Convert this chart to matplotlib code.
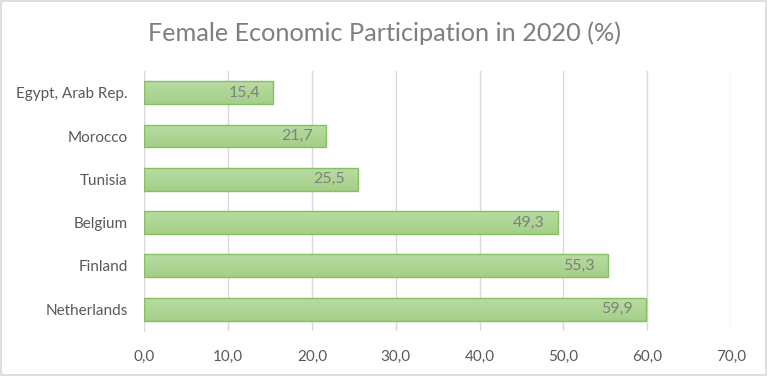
import matplotlib.pyplot as plt
import numpy as np
from matplotlib.colors import LinearSegmentedColormap
from matplotlib.patches import Rectangle

countries = ['Egypt, Arab Rep.', 'Morocco', 'Tunisia', 'Belgium', 'Finland', 'Netherlands']
values = [15.4, 21.7, 25.5, 49.3, 55.3, 59.9]
xticks = [0, 10, 20, 30, 40, 50, 60, 70]

plt.rcParams['font.family'] = ['Lato', 'DejaVu Sans']

fig = plt.figure(figsize=(7.68, 3.76), dpi=100)
fig.patches.append(Rectangle((0.001, 0.002), 0.997, 0.995, transform=fig.transFigure,
                             fill=False, edgecolor='#d9d9d9', linewidth=1.2))
ax = fig.add_axes([0.188, 0.12, 0.764, 0.691])

y = np.arange(len(countries))
h = 0.53
bars = ax.barh(y, values, height=h, color='none', edgecolor='#86bf62', linewidth=1.0, zorder=3)

# vertical gradient fill inside each bar
cmap = LinearSegmentedColormap.from_list('g', ['#b9dca3', '#a3cf87'])
grad = np.linspace(0, 1, 50).reshape(-1, 1)
for b in bars:
    im = ax.imshow(grad, cmap=cmap, aspect='auto', zorder=2,
                   extent=[0, b.get_width(), b.get_y() + h, b.get_y()])
    im.set_clip_path(b)

for yi, v in zip(y, values):
    ax.text(v - 1.6, yi, f'{v:.1f}'.replace('.', ','), ha='right', va='center',
            fontsize=11.5, color='#7f7f7f', zorder=4)

ax.set_xlim(0, 70)
ax.set_ylim(len(countries) - 0.5, -0.5)
ax.set_xticks(xticks)
ax.set_xticklabels([f'{t:.1f}'.replace('.', ',') for t in xticks])
ax.set_yticks(y)
ax.set_yticklabels(countries)
ax.tick_params(axis='both', length=0, labelsize=11, labelcolor='#595959')
ax.tick_params(axis='x', pad=14)
ax.tick_params(axis='y', pad=12)
ax.grid(axis='x', color='#d9d9d9', linewidth=1, zorder=0)
for s in ['top', 'right', 'bottom']:
    ax.spines[s].set_visible(False)
ax.spines['left'].set_color('#d9d9d9')

fig.text(0.5, 0.913, 'Female Economic Participation in 2020 (%)', ha='center', va='center',
         fontsize=18.2, color='#7f7f7f')

fig.savefig('out.png', dpi=100)
